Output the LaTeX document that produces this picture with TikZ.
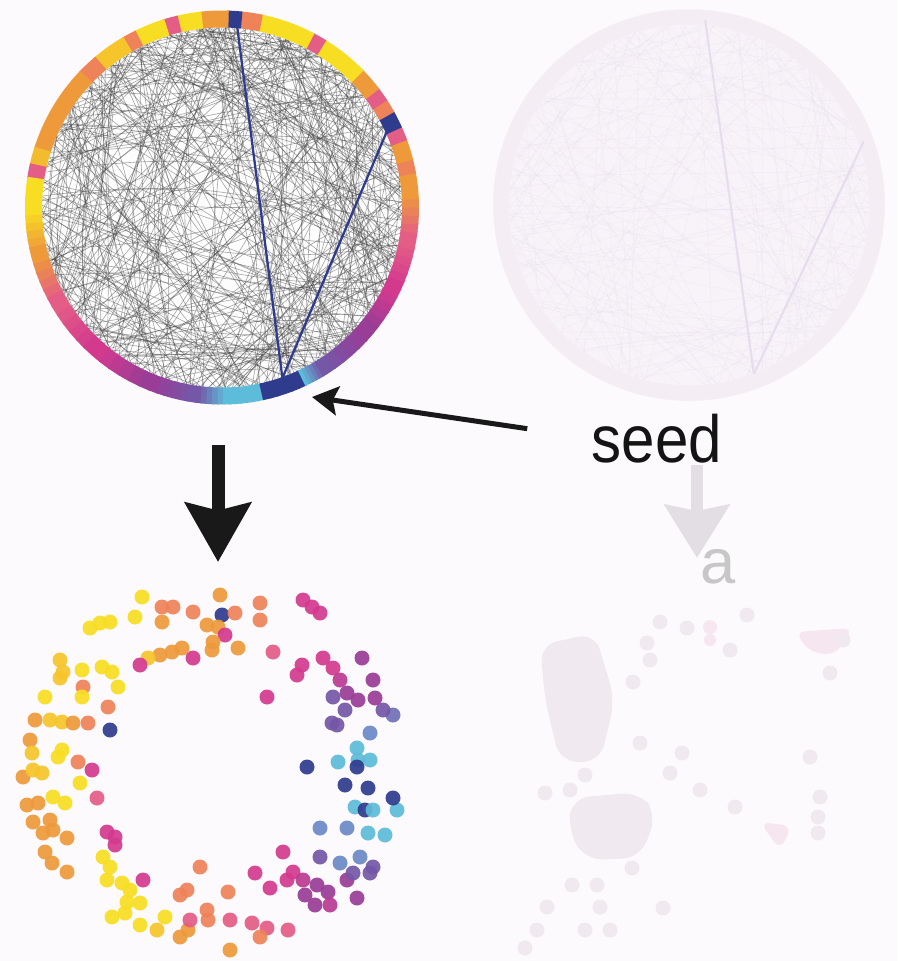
\documentclass[tikz,border=0pt]{standalone}
\usepackage{fontspec}
\newfontfamily\labelfont{Liberation Sans}
\usetikzlibrary{arrows.meta}

\definecolor{bgcol}{HTML}{FDFAFD}
\definecolor{yel}{HTML}{F8DE22}
\definecolor{yeltwo}{HTML}{F6C52B}
\definecolor{org}{HTML}{EE9A3B}
\definecolor{orgp}{HTML}{EE8359}
\definecolor{pnk}{HTML}{E35D86}
\definecolor{mag}{HTML}{D33A8E}
\definecolor{pur}{HTML}{9A3D96}
\definecolor{vio}{HTML}{7457A7}
\definecolor{lbl}{HTML}{6C89C6}
\definecolor{sky}{HTML}{5DBCD9}
\definecolor{dbl}{HTML}{2F3C8E}
\definecolor{fadefill}{HTML}{F8F3F8}
\definecolor{fadering}{HTML}{F4EDF4}
\definecolor{fadeln}{HTML}{E6DEEE}
\definecolor{fadearr}{HTML}{E3DEE3}
\definecolor{fadedotc}{HTML}{F0EAF0}
\definecolor{fadepnk}{HTML}{F5E6EF}

\begin{document}
\begin{tikzpicture}[
    x=0.02cm, y=-0.02cm,
    chord/.style={draw=black!75, line width=0.35pt, opacity=0.45},
    faintchord/.style={draw=fadeln, line width=0.35pt, opacity=0.3},
    seglink/.style={line width=0.34cm},
    bluechord/.style={draw=dbl, line width=1.3pt},
    seedlink/.style={draw=black!90, line width=0.1cm, -{Stealth[length=0.52cm, width=0.58cm, inset=0.1cm]}},
    bigdown/.style={draw=black!90, line width=0.26cm, -{Stealth[length=1.18cm, width=1.3cm, inset=0.15cm]}},
    fadedown/.style={draw=fadearr, line width=0.24cm, -{Stealth[length=1.06cm, width=1.28cm, inset=0.12cm]}},
    dot/.style={fill opacity=0.92},
    blob/.style={fill=fadedotc, rounded corners=0.35cm}
]
    \fill[bgcol] (0,0) rectangle (897,961);
    \useasboundingbox (0,0) rectangle (897,961);

    % left chord diagram
    \begin{scope}[shift={(222,207.5)}, yscale=-1]
        \fill[white!60!bgcol] (0,0) circle[radius=181];
        \pgfmathsetseed{2718}
        \foreach \k in {1,...,330}{
            \pgfmathsetmacro{\ta}{360*rnd}
            \pgfmathsetmacro{\tb}{\ta+45+270*rnd}
            \pgfmathsetmacro{\bnd}{40*rnd-20}
            \draw[chord] (\ta:180) to[bend left=\bnd] (\tb:180);
        }
        % smooth lower part of the ring
        \foreach \s/\e/\ca/\cb in {-180/-166/yel/org, -166/-150/org/pnk,
            -150/-132/pnk/mag, -132/-112/mag/pur, -112/-98/pur/vio,
            -98/-88/vio/sky, -88/-78/sky/sky, -78/-65/dbl/dbl, -65/-58/sky/vio,
            -58/-40/vio/pur, -40/-25/pur/mag, -25/-10/mag/pnk, -10/5/pnk/org}{
            \foreach \j in {0,...,5}{
                \pgfmathsetmacro{\sa}{\s+(\e-\s)*\j/6}
                \pgfmathsetmacro{\sb}{\s+(\e-\s)*(\j+1)/6+0.6}
                \pgfmathtruncatemacro{\p}{100*\j/5}
                \draw[seglink, \cb!\p!\ca] (\sa:188.5) arc[start angle=\sa, end angle=\sb, radius=188.5];
            }
        }
        % blotchy upper part of the ring
        \foreach \s/\e/\c in {5/10/org, 10/14/orgp, 14/20/org, 20/24/pnk,
            24/29/dbl, 29/33/orgp, 33/37/pnk, 37/44/org, 44/58/yel, 58/62/pnk,
            62/78/yel, 78/84/orgp, 84/88/dbl, 88/96/org, 96/103/yel,
            103/107/pnk, 107/116/yel, 116/120/orgp, 120/130/yeltwo,
            130/136/orgp, 136/162/org, 162/167/org!50!yel, 167/171/pnk, 171/180/yel}
            \draw[seglink, \c] (\s:188.5) arc[start angle=\s, end angle=\e+0.6, radius=188.5];
        \draw[bluechord] (85.5:186) -- (-70.5:181);
        \draw[bluechord] (26:186) -- (-70.5:181);
    \end{scope}

    % right faded diagram
    \begin{scope}[shift={(689,205)}, yscale=-1]
        \fill[fadefill] (0,0) circle[radius=196];
        \draw[fadering, line width=0.3cm] (0,0) circle[radius=188];
        \pgfmathsetseed{314}
        \foreach \k in {1,...,160}{
            \pgfmathsetmacro{\ta}{360*rnd}
            \pgfmathsetmacro{\tb}{\ta+45+270*rnd}
            \draw[faintchord] (\ta:180) -- (\tb:180);
        }
        \draw[fadeln, line width=1.2pt] (85:186) -- (-69:181);
        \draw[fadeln, line width=1.2pt] (20:186) -- (-69:181);
    \end{scope}

    % labels and arrows
    \coordinate (fadetop) at (697,465);
    \coordinate (fadetip) at (697,558);
    \draw[fadedown] (fadetop) -- (fadetip);
    \node[font=\labelfont\fontsize{36}{38}\selectfont, text=black!22, anchor=base, inner sep=0pt] (alabel) at (718,583) {a};

    \node[font=\labelfont\fontsize{38}{40}\selectfont, text=black!92, anchor=base, inner sep=0pt, xscale=0.9] (seed) at (657,462) {seed};
    \coordinate (seedtip) at (312,397);
    \draw[seedlink, shorten <=1.3cm] (seed.west) -- (seedtip);

    \coordinate (downtop) at (218,445);
    \coordinate (downtip) at (218,562);
    \draw[bigdown] (downtop) -- (downtip);

    % left embedding
    \foreach \x/\y/\c in {142/597/yel, 162/607/orgp, 173/607/orgp, 193/612/orgp,
        220/595/org, 222/615/dbl, 235/613/orgp, 260/603/orgp, 260/620/orgp,
        135/617/yel, 162/622/org, 207/625/org, 218/627/org, 225/635/mag,
        213/642/org, 238/648/org, 273/652/pnk, 303/600/mag, 312/607/mag,
        320/613/mag, 90/628/yel, 100/623/yel, 110/622/yel, 182/648/org,
        172/652/org, 160/655/org, 148/658/yeltwo, 140/665/mag, 193/658/mag,
        212/650/org, 60/660/yeltwo, 63/672/yeltwo, 60/678/yeltwo, 82/670/yel,
        102/667/yel, 112/672/yel, 83/687/orgp, 82/697/yel, 118/687/yel,
        45/697/yel, 108/707/orgp, 110/730/dbl, 35/720/org, 50/720/yeltwo,
        62/722/yeltwo, 73/723/org, 88/723/orgp, 30/740/org, 32/753/yeltwo,
        62/750/yel, 58/757/yel, 78/762/orgp, 92/770/mag, 23/777/org,
        33/770/yeltwo, 42/773/yeltwo, 80/783/yel, 53/797/yel, 65/803/yel,
        97/798/pnk, 27/805/org, 38/803/org, 33/822/org, 50/820/org, 43/833/org,
        53/830/org, 67/838/org, 45/852/org, 52/863/org, 67/872/org,
        107/832/mag, 115/837/mag, 115/845/mag, 103/857/yel, 110/867/yel,
        107/880/yel, 122/883/yel, 130/890/yel, 143/880/mag, 127/902/yel,
        140/903/yel, 112/917/yel, 125/913/yel, 140/925/yel, 157/930/yeltwo,
        165/917/yel, 180/937/org, 188/930/org, 180/895/orgp, 187/890/orgp,
        200/867/orgp, 207/910/orgp, 208/920/orgp, 190/920/pnk, 228/892/orgp,
        230/920/pnk, 230/950/org, 252/923/pnk, 267/928/pnk, 260/937/orgp,
        288/930/pnk, 255/873/mag, 270/888/mag, 283/852/mag, 293/872/mag,
        287/880/mag, 303/880/mag!60!pur, 305/895/pur, 317/885/pur, 315/905/pur,
        328/892/pur, 330/905/mag!50!pur, 320/857/vio, 340/863/lbl, 347/880/pur,
        353/873/vio, 357/898/pur, 360/857/lbl, 373/867/vio, 370/873/vio,
        320/828/lbl, 347/828/lbl, 368/833/sky, 385/835/sky, 355/807/sky,
        365/810/dbl, 373/810/sky, 397/810/sky, 393/798/dbl, 345/785/dbl,
        368/788/dbl, 307/767/dbl, 338/762/sky, 358/760/sky, 357/767/dbl,
        370/760/sky, 370/733/lbl, 357/748/sky, 337/725/vio, 332/723/vio,
        267/697/mag, 297/675/mag, 302/665/mag, 323/658/mag, 333/668/mag,
        362/658/pur, 340/680/mag!60!pur, 373/680/pur, 333/697/vio, 347/693/pur,
        358/700/pur, 375/698/pur, 345/710/vio, 393/715/lbl!50!vio, 383/710/vio}
        \fill[dot, \c] (\x,\y) circle[radius=7.5];

    % right faded embedding
    \fill[blob] (540,645) -- (595,633) -- (615,700) -- (600,762) -- (560,762) -- (545,700) -- cycle;
    \fill[blob] (572,798) -- (640,792) -- (657,815) -- (640,858) -- (585,860) -- (568,830) -- cycle;
    \fill[fadepnk, rounded corners=0.2cm] (760,822) -- (792,826) -- (780,850) -- cycle;
    \fill[fadepnk, rounded corners=0.2cm] (795,632) -- (853,628) -- (835,655) -- (810,652) -- cycle;
    \foreach \x/\y in {660/622, 687/628, 730/650, 747/615, 830/673, 647/643,
        650/660, 633/682, 640/743, 682/753, 670/773, 700/790, 735/807,
        810/757, 820/797, 818/817, 818/833, 585/775, 570/790, 545/793,
        632/868, 597/885, 572/885, 547/907, 600/907, 663/908, 537/930,
        585/930, 610/930, 525/948, 843/640}
        \fill[fadedotc] (\x,\y) circle[radius=7.5];
    \fill[fadepnk] (710,627) circle[radius=7];
    \fill[fadepnk] (710,640) circle[radius=6];
\end{tikzpicture}
\end{document}
